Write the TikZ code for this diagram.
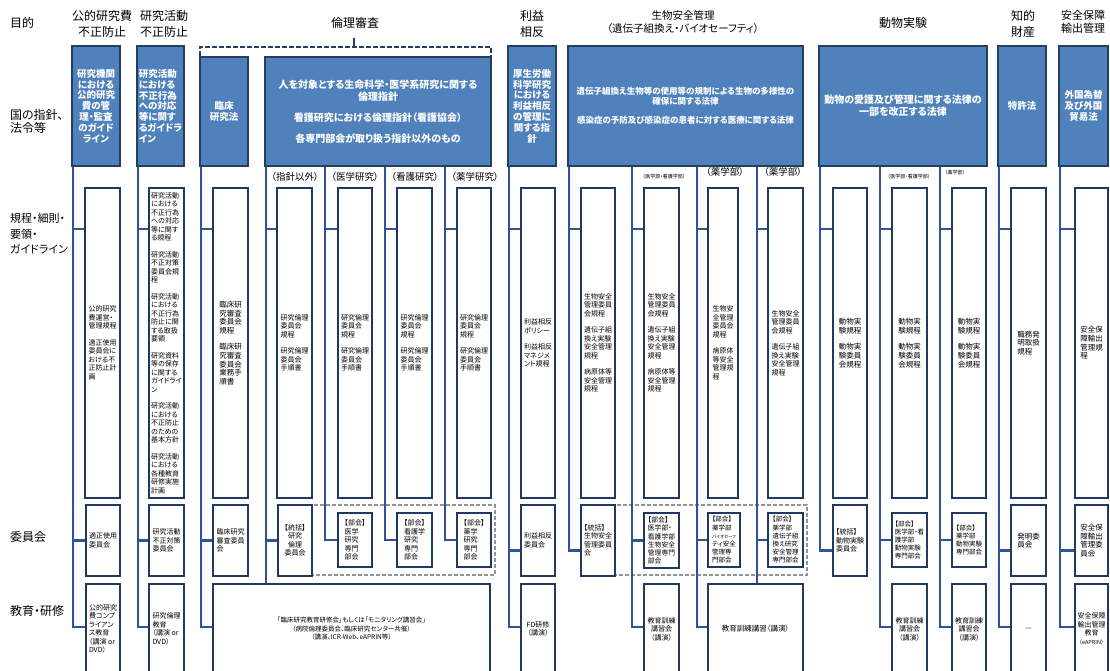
\documentclass[tikz,border=0pt]{standalone}
\usepackage{fontspec}
\setmainfont{Noto Sans CJK JP}[RawFeature=+palt]
\usetikzlibrary{calc}
\definecolor{bfill}{HTML}{4F81BD}
\definecolor{bedge}{HTML}{243F60}
\definecolor{connc}{HTML}{2F5496}
\definecolor{redge}{HTML}{1F3864}
\pgfdeclarelayer{bg}
\pgfdeclarelayer{conns}
\pgfsetlayers{bg,conns,main}
\tikzset{
 every node/.style={outer sep=0pt},
 conn/.style={draw=connc, line width=2.4pt},
 bluebox/.style={anchor=north west, fill=bfill, draw=bedge, line width=2.2pt, text=white, inner sep=0pt, align=center, font={\fontsize{9.5}{10.8}\selectfont\bfseries}},
 rbox/.style={anchor=north west, fill=white, draw=redge, line width=2pt, inner sep=0pt, align=left, font={\fontsize{7}{8.5}\selectfont}},
 rboxc/.style={rbox, align=center},
 rboxb/.style={rbox, font={\fontsize{7.5}{8.6}\selectfont}},
 hdr/.style={align=center, font={\fontsize{12}{15.5}\selectfont}, inner sep=0pt},
 rowlab/.style={anchor=west, align=left, font={\fontsize{12}{13}\selectfont}, inner sep=0pt},
 sublab/.style={font={\fontsize{9.5}{11}\selectfont}, inner sep=0pt},
 tinylab/.style={font={\fontsize{5}{6}\selectfont}, inner sep=0pt},
 grpdash/.style={draw=gray!85, line width=1.5pt, dash pattern=on 4pt off 2pt},
 brdash/.style={draw=bedge, line width=1.5pt, dash pattern=on 5pt off 2pt},
 brtick/.style={draw=bedge, line width=1.5pt},
}
\newcommand{\bx}[7]{\node[#1,minimum width={#5-#3},minimum height={#6-#4}] (#2) at (#3,#4) {#7};}
\begin{document}
\begin{tikzpicture}[x=1pt,y=-1pt]
\useasboundingbox (0,0) rectangle (1110,671);
\begin{pgfonlayer}{bg}
\fill[white] (0,0) rectangle (1110,671);
\end{pgfonlayer}
\clip (0,0) rectangle (1110,671);

% row labels
\node[rowlab] (l1) at (10,23) {目的};
\node[rowlab] (l2) at (10,121) {国の指針、\\法令等};
\node[rowlab,font={\fontsize{11}{15.5}\selectfont}] (l3) at (10,234) {規程・細則・\\要領・\\ガイドライン};
\node[rowlab] (l4) at (10,537) {委員会};
\node[rowlab] (l5) at (10,611) {教育・研修};

% headers
\node[hdr] (h1) at (102,24) {公的研究費\\不正防止};
\node[hdr] (h2) at (164,24) {研究活動\\不正防止};
\node[hdr] (h4) at (355,23) {倫理審査};
\node[hdr] (h5) at (532,24) {利益\\相反};
\node[hdr,font={\fontsize{10.5}{13}\selectfont}] (h6) at (683,22) {生物安全管理\\（遺伝子組換え・バイオセーフティ）};
\node[hdr] (h7) at (903,23) {動物実験};
\node[hdr] (h8) at (1023,24) {知的\\財産};
\node[hdr,font={\fontsize{11}{13.5}\selectfont}] (h9) at (1083,22) {安全保障\\輸出管理};

% blue boxes
\bx{bluebox}{B1}{72}{46}{120}{166}{研究機関\\における\\公的研究\\費の管\\理・監査\\のガイド\\ライン}
\bx{bluebox,align=left}{B2}{137}{46}{184}{166}{研究活動\\における\\不正行為\\への対応\\等に関す\\るガイドラ\\イン}
\bx{bluebox}{B3}{200}{57}{248}{166}{臨床\\研究法}
\bx{bluebox,font={\fontsize{10}{12}\selectfont\bfseries}}{B4}{265}{57}{491}{166}{人を対象とする生命科学・医学系研究に関する\\倫理指針\\[9pt]看護研究における倫理指針（看護協会）\\[9pt]各専門部会が取り扱う指針以外のもの}
\bx{bluebox}{B5}{508}{46}{556}{166}{厚生労働\\科学研究\\における\\利益相反\\の管理に\\関する指\\針}
\bx{bluebox,font={\fontsize{8.5}{9.5}\selectfont\bfseries}}{B6}{568}{46}{803}{166}{遺伝子組換え生物等の使用等の規制による生物の多様性の\\確保に関する法律\\[10pt]感染症の予防及び感染症の患者に対する医療に関する法律}
\bx{bluebox,font={\fontsize{10}{12}\selectfont\bfseries}}{B7}{819}{46}{987}{166}{動物の愛護及び管理に関する法律の\\一部を改正する法律}
\bx{bluebox}{B8}{998}{46}{1046}{166}{特許法}
\bx{bluebox}{B9}{1059}{46}{1108}{166}{外国為替\\及び外国\\貿易法}

% sub labels
\node[sublab] (s4a) at (295,177) {（指針以外）};
\node[sublab] (s4b) at (355,177) {（医学研究）};
\node[sublab] (s4c) at (415,177) {（看護研究）};
\node[sublab] (s4d) at (475,177) {（薬学研究）};
\node[tinylab] (s6b) at (664,177) {（医学部・看護学部）};
\node[sublab] (s6c) at (725,172) {（薬学部）};
\node[sublab] (s6d) at (783,172) {（薬学部）};
\node[tinylab] (s7b) at (909,177) {（医学部・看護学部）};
\node[tinylab] (s7c) at (955,173) {（薬学部）};

% rule boxes
\bx{rbox}{R1}{85}{188}{120}{498}{公的研究\\費運営・\\管理規程\\[8pt]適正使用\\委員会に\\おける不\\正防止計\\画}
\bx{rbox}{R2}{149}{188}{184}{498}{研究活動\\における\\不正行為\\への対応\\等に関す\\る規程\\[8pt]研究活動\\不正対策\\委員会規\\程\\[8pt]研究活動\\における\\不正行為\\防止に関\\する取扱\\要領\\[8pt]研究資料\\等の保存\\に関する\\ガイドライ\\ン\\[8pt]研究活動\\における\\不正防止\\のための\\基本方針\\[8pt]研究活動\\における\\各種教育\\研修実施\\計画}
\bx{rboxb}{R3}{213}{188}{248}{498}{臨床研\\究審査\\委員会\\規程\\[8pt]臨床研\\究審査\\委員会\\業務手\\順書}
\bx{rbox}{R4a}{277}{188}{312}{498}{研究倫理\\委員会\\規程\\[8pt]研究倫理\\委員会\\手順書}
\bx{rbox}{R4b}{338}{188}{372}{498}{研究倫理\\委員会\\規程\\[8pt]研究倫理\\委員会\\手順書}
\bx{rbox}{R4c}{397}{188}{432}{498}{研究倫理\\委員会\\規程\\[8pt]研究倫理\\委員会\\手順書}
\bx{rbox}{R4d}{457}{188}{491}{498}{研究倫理\\委員会\\規程\\[8pt]研究倫理\\委員会\\手順書}
\bx{rbox}{R5}{521}{188}{555}{498}{利益相反\\ポリシー\\[8pt]利益相反\\マネジメ\\ント規程}
\bx{rbox}{R6a}{581}{188}{615}{498}{生物安全\\管理委員\\会規程\\[8pt]遺伝子組\\換え実験\\安全管理\\規程\\[8pt]病原体等\\安全管理\\規程}
\bx{rbox}{R6b}{644}{188}{679}{498}{生物安全\\管理委員\\会規程\\[8pt]遺伝子組\\換え実験\\安全管理\\規程\\[8pt]病原体等\\安全管理\\規程}
\bx{rbox}{R6c}{708}{188}{738}{498}{生物安\\全管理\\委員会\\規程\\[8pt]病原体\\等安全\\管理規\\程}
\bx{rbox}{R6d}{768}{188}{803}{498}{生物安全\\管理委員\\会規程\\[8pt]遺伝子組\\換え実験\\安全管理\\規程}
\bx{rboxb}{R7a}{833}{188}{867}{498}{動物実\\験規程\\[8pt]動物実\\験委員\\会規程}
\bx{rboxb}{R7b}{892}{188}{927}{498}{動物実\\験規程\\[8pt]動物実\\験委員\\会規程}
\bx{rboxb}{R7c}{952}{188}{986}{498}{動物実\\験規程\\[8pt]動物実\\験委員\\会規程}
\bx{rboxb}{R8}{1011}{188}{1046}{498}{職務発\\明取扱\\規程}
\bx{rboxb}{R9}{1075}{188}{1108}{498}{安全保\\障輸出\\管理規\\程}

% committee boxes
\bx{rbox}{C1}{86}{505}{120}{576}{適正使用\\委員会}
\bx{rbox}{C2}{149}{505}{184}{576}{研究活動\\不正対策\\委員会}
\bx{rbox}{C3}{213}{505}{248}{576}{臨床研究\\審査委員\\会}
\bx{rboxc}{C4}{278}{505}{312}{576}{【統括】\\研究\\倫理\\委員会}
\bx{rbox}{C4b}{338}{513}{372}{567}{【部会】\\医学\\研究\\専門\\部会}
\bx{rbox}{C4c}{397}{513}{432}{567}{【部会】\\看護学\\研究\\専門\\部会}
\bx{rbox}{C4d}{457}{513}{491}{567}{【部会】\\薬学\\研究\\専門\\部会}
\bx{rbox}{C5}{521}{505}{555}{576}{利益相反\\委員会}
\bx{rbox}{C6}{581}{505}{615}{576}{【統括】\\生物安全\\管理委員\\会}
\bx{rbox,font={\fontsize{6.8}{8.2}\selectfont}}{C6b}{644}{513}{679}{568}{【部会】\\医学部・\\看護学部\\生物安全\\管理専門\\部会}
\bx{rbox,font={\fontsize{6.5}{8.2}\selectfont}}{C6c}{708}{513}{740}{567}{【部会】\\薬学部\\{\fontsize{4.3}{8.2}\selectfont バイオセーフ}\\ティ安全\\管理専\\門部会}
\bx{rbox,font={\fontsize{6.5}{8.2}\selectfont}}{C6d}{768}{513}{803}{567}{【部会】\\薬学部\\遺伝子組\\換え研究\\安全管理\\専門部会}
\bx{rbox}{C7}{833}{505}{867}{576}{【統括】\\動物実験\\委員会}
\bx{rbox,font={\fontsize{6.5}{8.2}\selectfont}}{C7b}{892}{513}{927}{567}{【部会】\\医学部・看\\護学部\\動物実験\\専門部会}
\bx{rbox,font={\fontsize{6.5}{8.2}\selectfont}}{C7c}{952}{513}{986}{567}{【部会】\\薬学部\\動物実験\\専門部会}
\bx{rboxb}{C8}{1011}{505}{1046}{576}{発明委\\員会}
\bx{rboxb}{C9}{1075}{505}{1108}{576}{安全保\\障輸出\\管理委\\員会}

% education boxes
\bx{rbox}{E1}{86}{584}{120}{674}{公的研究\\費コンプ\\ライアン\\ス教育\\（講演 or\\DVD）}
\bx{rbox}{E2}{149}{584}{184}{674}{研究倫理\\教育\\（講演 or\\DVD）}
\bx{rboxc,font={\fontsize{6.5}{8.5}\selectfont}}{E3}{213}{584}{490}{674}{「臨床研究教育研修会」もしくは「モニタリング講習会」\\（病院倫理委員会、臨床研究センター共催）\\（講演、ICR-Web、eAPRIN等）}
\bx{rboxc}{E5}{521}{584}{555}{674}{FD研修\\（講演）}
\bx{rboxc}{E6b}{644}{584}{679}{674}{教育訓練\\講習会\\（講演）}
\bx{rboxc,font={\fontsize{7.5}{9}\selectfont}}{E6c}{708}{584}{803}{674}{教育訓練講習（講演）}
\bx{rboxc}{E7b}{892}{584}{927}{674}{教育訓練\\講習会\\（講演）}
\bx{rboxc}{E7c}{952}{584}{986}{674}{教育訓練\\講習会\\（講演）}
\bx{rboxc}{E8}{1011}{584}{1046}{674}{—}
\bx{rboxc}{E9}{1075}{584}{1108}{674}{安全保障\\輸出管理\\教育\\{\fontsize{5.5}{8.5}\selectfont（eAPRIN）}}

% trunk tops
\coordinate (t1) at ([xshift=1pt]B1.south west);
\coordinate (t2) at ([xshift=1pt]B2.south west);
\coordinate (t3) at ([xshift=1pt]B3.south west);
\coordinate (t4a) at ([xshift=1pt]B4.south west);
\coordinate (t4b) at (325,166);
\coordinate (t4c) at (385,166);
\coordinate (t4d) at (445,166);
\coordinate (t5) at ([xshift=1pt]B5.south west);
\coordinate (t6a) at ([xshift=1pt]B6.south west);
\coordinate (t6b) at (632,166);
\coordinate (t6c) at (697,166);
\coordinate (t6d) at (757,166);
\coordinate (t7a) at ([xshift=1pt]B7.south west);
\coordinate (t7b) at (880,166);
\coordinate (t7c) at (940,166);
\coordinate (t8) at ([xshift=1pt]B8.south west);
\coordinate (t9) at ([xshift=1pt]B9.south west);
\coordinate (brL) at (200,56);
\coordinate (brR) at (491,56);
\coordinate (brT) at (354,38);

\begin{pgfonlayer}{conns}
\draw[grpdash] (278,505) rectangle (495,575);
\draw[grpdash] (581,505) rectangle (807,575);
\draw[brdash] (brL) -- (brL |- 0,47) -- (brR |- 0,47) -- (brR);
\draw[brtick] (brT) -- (brT |- 0,47);
% col 1-3
\draw[conn] (t1) |- ([yshift=-41pt]R1.north west);
\draw[conn] (t1) |- (C1.west);
\draw[conn] (t1) |- ([yshift=-43pt]E1.north west);
\draw[conn] (t2) |- ([yshift=-41pt]R2.north west);
\draw[conn] (t2) |- (C2.west);
\draw[conn] (t2) |- ([yshift=-43pt]E2.north west);
\draw[conn] (t3) |- ([yshift=-41pt]R3.north west);
\draw[conn] (t3) |- (C3.west);
\draw[conn] (t3) |- ([yshift=-43pt]E3.north west);
% ethics
\draw[conn] (t4a) |- ([yshift=-41pt]R4a.north west);
\draw[conn] (t4a) |- (C4.west);
\draw[conn] (t4a) -- (t4a |- E3.north);
\draw[conn] (t4b) |- ([yshift=-41pt]R4b.north west);
\draw[conn] (t4b) |- (C4b.west);
\draw[conn] (t4c) |- ([yshift=-41pt]R4c.north west);
\draw[conn] (t4c) |- (C4c.west);
\draw[conn] (t4d) |- ([yshift=-41pt]R4d.north west);
\draw[conn] (t4d) |- (C4d.west);
% COI
\draw[conn] (t5) |- ([yshift=-41pt]R5.north west);
\draw[conn] (t5) |- ([yshift=-10pt]C5.west);
\draw[conn] (t5) |- ([yshift=-43pt]E5.north west);
% biosafety
\draw[conn] (t6a) |- ([yshift=-41pt]R6a.north west);
\draw[conn] (t6a) |- ([yshift=-10pt]C6.west);
\draw[conn] (t6b) |- ([yshift=-41pt]R6b.north west);
\draw[conn] (t6b) |- (C6b.west);
\draw[conn] (t6b) |- ([yshift=-43pt]E6b.north west);
\draw[conn] (t6c) |- ([yshift=-41pt]R6c.north west);
\draw[conn] (t6c) |- (C6c.west);
\draw[conn] (t6c) |- ([yshift=-43pt]E6c.north west);
\draw[conn] (t6d) |- ([yshift=-41pt]R6d.north west);
\draw[conn] (t6d) |- (C6d.west);
\draw[conn] (t6d) -- (t6d |- E6c.north);
% animal
\draw[conn] (t7a) |- ([yshift=-41pt]R7a.north west);
\draw[conn] (t7a) |- ([yshift=-10pt]C7.west);
\draw[conn] (t7b) |- ([yshift=-41pt]R7b.north west);
\draw[conn] (t7b) |- (C7b.west);
\draw[conn] (t7b) |- ([yshift=-43pt]E7b.north west);
\draw[conn] (t7c) |- ([yshift=-41pt]R7c.north west);
\draw[conn] (t7c) |- (C7c.west);
\draw[conn] (t7c) |- ([yshift=-43pt]E7c.north west);
% patent, security
\draw[conn] (t8) |- ([yshift=-41pt]R8.north west);
\draw[conn] (t8) |- ([yshift=-10pt]C8.west);
\draw[conn] (t8) |- ([yshift=-43pt]E8.north west);
\draw[conn] (t9) |- ([yshift=-41pt]R9.north west);
\draw[conn] (t9) |- ([yshift=-10pt]C9.west);
\draw[conn] (t9) |- ([yshift=-43pt]E9.north west);
\end{pgfonlayer}
\end{tikzpicture}
\end{document}
